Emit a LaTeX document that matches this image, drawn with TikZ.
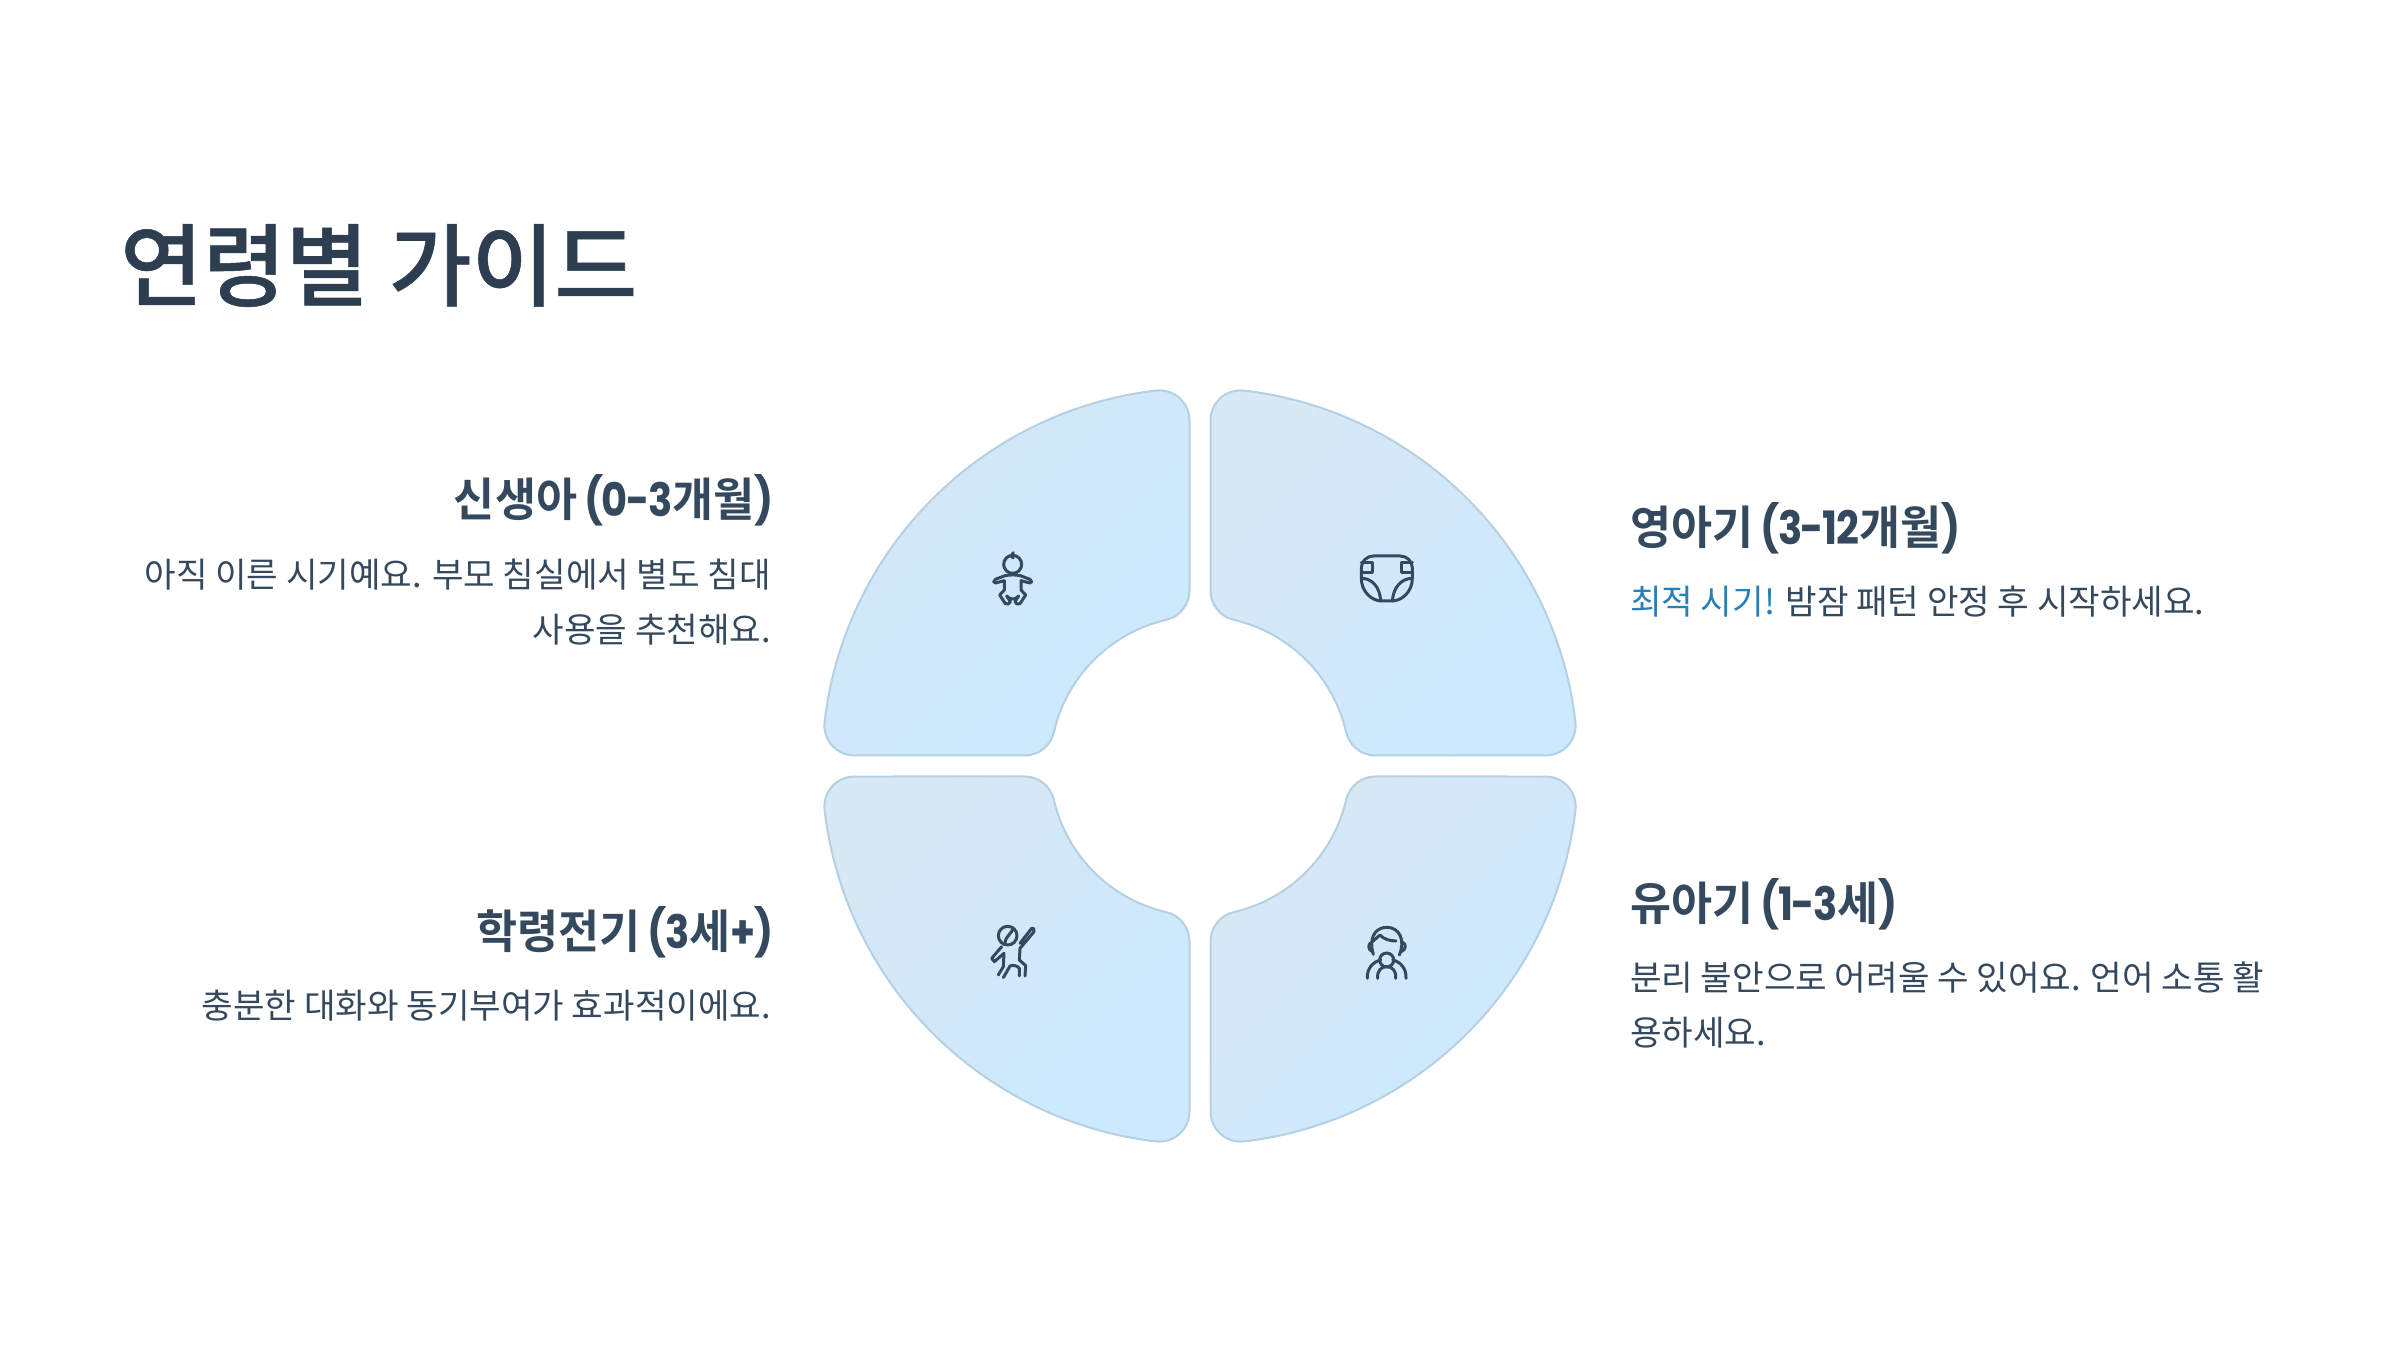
\documentclass[tikz,border=0pt]{standalone}
\usepackage{fontspec}
\usepackage{xcolor}
\setmainfont{Poppins}[BoldFont=* Bold,BoldFeatures={FakeStretch=0.87},LetterSpace=-3]
\newfontfamily\krfont{Noto Sans CJK KR}[BoldFont=* Bold,BoldFeatures={FakeStretch=0.97}]
\newfontfamily\krtitlefont{Noto Sans CJK KR Medium}[FakeBold=0.6]
\definecolor{titleInk}  {RGB}{44,  62,  80}
\definecolor{bodyInk}   {RGB}{52,  73,  94}
\definecolor{accentBlue}{RGB}{41, 128, 185}
\definecolor{petalEdge} {RGB}{181,208,227}
\definecolor{petalFrom} {RGB}{216,232,244}
\definecolor{petalSoft} {RGB}{212,232,246}
\definecolor{petalTo}   {RGB}{203,233,255}
\newcommand{\kr}[1]{{\krfont #1}}
\newcommand{\petalpath}{
  (10.5,345.63) arc[start angle=180,end angle=83.317,radius=30]
  arc[start angle=83.317,end angle=6.683,radius=378]
  arc[start angle=6.683,end angle=-90,radius=30]
  -- (175.38,10.5) arc[start angle=270,end angle=193,radius=30]
  arc[start angle=13,end angle=77,radius=150]
  arc[start angle=257,end angle=180,radius=30] -- cycle}
\begin{document}
\begin{tikzpicture}[x=1pt,y=1pt,
          petal/.style={draw=petalEdge,line width=2pt,bottom color=petalTo},
          icon/.style={draw=bodyInk,line width=3pt,line cap=round,line join=round},
          titletxt/.style={anchor=base west,inner sep=0pt,text=titleInk,
                           font=\fontsize{90}{100}\selectfont\krtitlefont},
          headtxt/.style={inner sep=0pt,text=bodyInk,
                          font=\fontsize{46}{54}\selectfont\bfseries},
          bodytxt/.style={inner sep=0pt,text=bodyInk,
                          font=\fontsize{34.3}{55}\selectfont\krfont},
        ]
        \useasboundingbox (0,0) rectangle (2400,1350);
        \fill[white] (0,0) rectangle (2400,1350);
        \node[titletxt] (title) at (120,1051){연령별 가이드};
        \foreach \sx/\sy/\from in {1/1/petalFrom,-1/1/petalSoft,-1/-1/petalFrom,1/-1/petalFrom}{
          \draw[petal,top color=\from,bottom color=petalTo,shading angle=45,
                shift={(1200,584)},xscale=\sx,yscale=\sy] \petalpath;
        }
        % left column
        \node[headtxt,anchor=east] (newborn) at (774,850){\kr{신생아}\hspace{7pt}(0-3\kr{개월})};
        \node[bodytxt,anchor=north east,align=right] (newbornbody) at (771,791)
             {아직 이른 시기예요. 부모 침실에서 별도 침대\\사용을 추천해요.};
        \node[headtxt,anchor=east] (preschool) at (774,418){\kr{학령전기}\hspace{7pt}(3\kr{세}+)};
        \node[bodytxt,anchor=north east,align=right] (preschoolbody) at (771,360)
             {충분한 대화와 동기부여가 효과적이에요.};
        % right column
        \node[headtxt,anchor=west] (infant) at (1630,822){\kr{영아기}\hspace{7pt}(3-12\kr{개월})};
        \node[bodytxt,anchor=north west] (infantbody) at (1630,764)
             {\textcolor{accentBlue}{최적 시기!} 밤잠 패턴 안정 후 시작하세요.};
        \node[headtxt,anchor=west] (toddler) at (1630,446){\kr{유아기}\hspace{7pt}(1-3\kr{세})};
        \node[bodytxt,anchor=north west,align=left] (toddlerbody) at (1630,388)
             {분리 불안으로 어려울 수 있어요. 언어 소통 활\\용하세요.};
        % baby
        \begin{scope}[shift={(960,820)},scale=1/3,yscale=-1]
          \draw[icon] (158,103) circle (27);
          \draw[icon] (160,68) -- (154,78) -- (160,84);
          \draw[icon] (106,148) -- (135,137) .. controls (150,134) and (166,134) .. (181,137) -- (210,148)
              .. controls (217,152) and (216,160) .. (209,159) -- (183,152) -- (183,180)
              -- (197,195) -- (180,221) .. controls (174,226) and (166,220) .. (165,215) -- (176,198)
              .. controls (165,210) and (151,210) .. (140,198) -- (151,215)
              .. controls (150,220) and (142,226) .. (136,221) -- (119,195) -- (133,180) -- (133,152)
              -- (107,159) .. controls (100,160) and (99,152) .. (106,148);
        \end{scope}
        % diaper
        \begin{scope}[shift={(1340,820)},scale=1/3,yscale=-1]
          \draw[icon,rounded corners=12] (64,145) -- (64,78) -- (217,78) -- (217,145);
          \draw[icon] (64,145) .. controls (64,185) and (95,213) .. (125,213) -- (155,213)
              .. controls (186,213) and (217,185) .. (217,145);
          \draw[icon] (64,97) -- (96,97) -- (96,127) -- (64,127);
          \draw[icon] (217,97) -- (185,97) -- (185,127) -- (217,127);
          \draw[icon] (64,145) .. controls (95,145) and (120,170) .. (122,213);
          \draw[icon] (217,145) .. controls (186,145) and (160,170) .. (157,213);
        \end{scope}
        % running child
        \begin{scope}[shift={(960,445)},scale=1/3,yscale=-1]
          \draw[icon] (143,92) circle (28);
          \draw[icon] (158,68) .. controls (162,82) and (135,92) .. (135,115);
          \draw[icon] (180,115) -- (215,70) .. controls (220,67) and (225,73) .. (222,80)
              -- (180,130) -- (178,165) -- (197,182) -- (195,213);
          \draw[icon] (125,125) -- (95,160) -- (103,170) -- (132,145) -- (130,185) -- (115,210);
          \draw[icon] (130,218) -- (150,183) .. controls (158,180) and (170,180) .. (178,190) -- (178,213);
        \end{scope}
        % toddler
        \begin{scope}[shift={(1340,445)},scale=1/3,yscale=-1]
          \draw[icon] (100,148) .. controls (85,100) and (105,67) .. (140,67)
              .. controls (178,67) and (197,105) .. (178,150);
          \draw[icon] (95,112) .. controls (83,116) and (83,134) .. (97,140);
          \draw[icon] (188,112) .. controls (199,116) and (199,134) .. (184,140);
          \draw[icon] (97,110) -- (120,90) .. controls (130,102) and (150,108) .. (168,108);
          \draw[icon] (140,165) circle (21);
          \draw[icon] (82,220) .. controls (80,190) and (100,170) .. (122,165);
          \draw[icon] (198,220) .. controls (200,190) and (180,170) .. (158,165);
          \draw[icon] (113,220) .. controls (111,195) and (125,185) .. (140,185)
              .. controls (155,185) and (169,195) .. (167,220);
        \end{scope}
\end{tikzpicture}
\end{document}
